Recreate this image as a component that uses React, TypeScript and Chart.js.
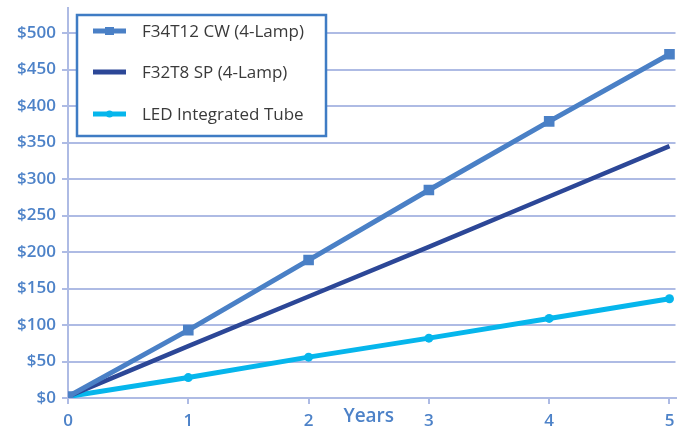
import React, { useEffect, useRef } from "react";
import { Chart, registerables } from "chart.js";

Chart.register(...registerables);

const years = [0, 1, 2, 3, 4, 5];
const f34t12 = [2, 93, 189, 285, 379, 471];
const f32t8 = [2, 71, 139, 207, 276, 345];
const led = [2, 28, 56, 82, 109, 136];
const seriesLabels = ["F34T12 CW (4-Lamp)", "F32T8 SP (4-Lamp)", "LED Integrated Tube"];
const seriesColors = ["#4a80c6", "#2c4797", "#06b6ec"];
const xTitle = "Years";

const FONT = "'Open Sans', 'DejaVu Sans', sans-serif";
const TICK_COLOR = "#4d82c8";
const GRID_COLOR = "#aebbe4";

const overlayPlugin = {
  id: "overlay",
  afterDraw(chart: any) {
    const ctx = chart.ctx as CanvasRenderingContext2D;
    const xs = chart.scales.x;
    ctx.save();
    ctx.font = `600 19px ${FONT}`;
    ctx.fillStyle = TICK_COLOR;
    ctx.textAlign = "center";
    ctx.textBaseline = "middle";
    ctx.fillText(xTitle, xs.getPixelForValue(2.5), 417);

    const bx = 77, by = 15, bw = 249, bh = 121;
    ctx.fillStyle = "#ffffff";
    ctx.fillRect(bx, by, bw, bh);
    ctx.strokeStyle = "#3f7cc4";
    ctx.lineWidth = 2.5;
    ctx.strokeRect(bx, by, bw, bh);
    const rows = [31, 72, 114];
    chart.data.datasets.forEach((ds: any, i: number) => {
      const y = rows[i];
      ctx.strokeStyle = ds.borderColor;
      ctx.lineWidth = 5;
      ctx.lineCap = "butt";
      ctx.beginPath();
      ctx.moveTo(93, y);
      ctx.lineTo(126, y);
      ctx.stroke();
      ctx.fillStyle = ds.borderColor;
      if (ds.pointStyle === "rect" && ds.pointRadius > 0) {
        ctx.fillRect(105, y - 4, 9, 8);
      } else if (ds.pointRadius > 0) {
        ctx.beginPath();
        ctx.arc(109.5, y, 3.5, 0, Math.PI * 2);
        ctx.fill();
      }
      ctx.fillStyle = "#3a3a3a";
      ctx.font = `17px ${FONT}`;
      ctx.textAlign = "left";
      ctx.textBaseline = "middle";
      ctx.fillText(ds.label, 142, y + 1);
    });
    ctx.restore();
  },
};

export default function App() {
  const ref = useRef<HTMLCanvasElement>(null);
  useEffect(() => {
    document.body.style.margin = "0";
    const mk = (vals: number[]) => years.map((x, i) => ({ x, y: vals[i] }));
    const chart = new Chart(ref.current!, {
      type: "line",
      data: {
        datasets: [
          {
            label: seriesLabels[0],
            data: mk(f34t12),
            borderColor: seriesColors[0],
            backgroundColor: seriesColors[0],
            borderWidth: 5,
            pointStyle: "rect",
            pointRadius: 7.5,
            pointBorderWidth: 0,
          },
          {
            label: seriesLabels[1],
            data: mk(f32t8),
            borderColor: seriesColors[1],
            backgroundColor: seriesColors[1],
            borderWidth: 4.5,
            pointRadius: 0,
          },
          {
            label: seriesLabels[2],
            data: mk(led),
            borderColor: seriesColors[2],
            backgroundColor: seriesColors[2],
            borderWidth: 5,
            pointStyle: "circle",
            pointRadius: 4.5,
            pointBorderWidth: 0,
          },
        ] as any,
      },
      options: {
        animation: false,
        responsive: true,
        maintainAspectRatio: false,
        layout: { padding: { top: 5, right: 7, left: 0, bottom: 0 } },
        plugins: { legend: { display: false }, tooltip: { enabled: false } },
        scales: {
          x: {
            type: "linear",
            min: 0,
            max: 5.05,
            afterBuildTicks: (s: any) => {
              s.ticks = years.map((v) => ({ value: v }));
            },
            afterFit: (s: any) => {
              s.height = 31;
              s.paddingLeft = 0;
              s.paddingRight = 0;
            },
            ticks: {
              color: TICK_COLOR,
              font: { family: FONT, size: 17, weight: "600" as any },
              padding: 7,
              maxRotation: 0,
            },
            grid: {
              drawOnChartArea: false,
              color: GRID_COLOR,
              lineWidth: 2,
              tickLength: 6,
            },
            border: { color: GRID_COLOR, width: 2 },
          },
          y: {
            min: 0,
            max: 535,
            afterBuildTicks: (s: any) => {
              s.ticks = s.ticks.filter((t: any) => t.value <= 500 && t.value % 50 === 0);
            },
            afterFit: (s: any) => {
              s.width = 68;
              s.paddingTop = 0;
              s.paddingBottom = 0;
            },
            ticks: {
              stepSize: 50,
              color: TICK_COLOR,
              font: { family: FONT, size: 17, weight: "600" as any },
              padding: 6,
              callback: (v: any) => "$" + v,
            },
            grid: {
              color: GRID_COLOR,
              lineWidth: 2,
              tickLength: 6,
            },
            border: { color: GRID_COLOR, width: 2 },
          },
        },
      },
      plugins: [overlayPlugin],
    });
    return () => chart.destroy();
  }, []);
  return (
    <div style={{ width: 683, height: 429, position: "relative" }}>
      <canvas ref={ref} />
    </div>
  );
}
